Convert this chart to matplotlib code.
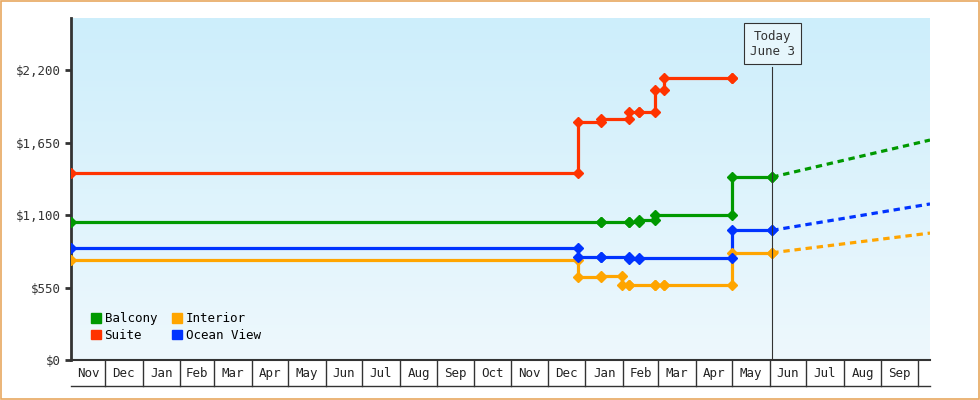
import numpy as np
import matplotlib.pyplot as plt
import matplotlib.dates as mdates
from datetime import date

plt.rcParams['font.family'] = ['DejaVu Sans Mono']

# step data: dates where price changes, and price from that date
suite_dates = ["2022-11-03", "2023-12-26", "2024-01-14", "2024-02-06", "2024-02-14", "2024-02-27", "2024-03-06", "2024-05-01"]
suite_vals = [1420, 1805, 1826, 1884, 1884, 2049, 2137, 2137]
balcony_dates = ["2022-11-03", "2024-01-14", "2024-02-06", "2024-02-14", "2024-02-27", "2024-05-01", "2024-06-03"]
balcony_vals = [1047, 1050, 1050, 1062, 1098, 1388, 1388]
interior_dates = ["2022-11-03", "2023-12-26", "2024-01-14", "2024-01-31", "2024-02-06", "2024-02-27", "2024-03-06", "2024-05-01", "2024-06-03"]
interior_vals = [759, 627, 637, 569, 566, 566, 566, 814, 814]
ocean_dates = ["2022-11-03", "2023-12-26", "2024-01-14", "2024-02-06", "2024-02-14", "2024-05-01", "2024-06-03"]
ocean_vals = [850, 784, 784, 764, 776, 984, 984]
# projected prices (today -> end of range)
proj_dates = ["2024-06-03", "2024-10-11"]
balcony_proj = [1388, 1669]
interior_proj = [814, 963]
ocean_proj = [984, 1184]

months = ["Nov", "Dec", "Jan", "Feb", "Mar", "Apr", "May", "Jun", "Jul", "Aug", "Sep", "Oct",
          "Nov", "Dec", "Jan", "Feb", "Mar", "Apr", "May", "Jun", "Jul", "Aug", "Sep"]
yticks = [0, 550, 1100, 1650, 2200]

fig = plt.figure(figsize=(9.8, 4), dpi=100)
fig.patches.append(plt.Rectangle((0.001, 0.002), 0.998, 0.996, transform=fig.transFigure,
                                 fill=False, ec="#e8a860", lw=1.2))
ax = fig.add_axes([71/980, 40/400, 859/980, 342/400])
x0, x1 = date(2022, 11, 3), date(2024, 10, 11)
ax.set_xlim(x0, x1)
ax.set_ylim(0, 2595)

# gradient background
grad = np.linspace(0, 1, 256).reshape(-1, 1)
ax.imshow(grad, extent=[mdates.date2num(x0), mdates.date2num(x1), 0, 2595], aspect="auto",
          cmap=plt.matplotlib.colors.LinearSegmentedColormap.from_list("bg", ["#eef8fd", "#cdeefb"]),
          origin="lower", zorder=0)

def D(lst):
    return [np.datetime64(d) for d in lst]

series = [(balcony_dates, balcony_vals, "#009900", "Balcony"),
          (suite_dates, suite_vals, "#ff3300", "Suite"),
          (interior_dates, interior_vals, "#ffa500", "Interior"),
          (ocean_dates, ocean_vals, "#0033ff", "Ocean View")]
for ds, vs, c, lab in series:
    ax.step(D(ds), vs, where="post", color=c, lw=2.3, zorder=3)
    ax.plot(D(ds[1:]), vs[:-1], "D", color=c, ms=5, zorder=4)
    ax.plot(D(ds), vs, "D", color=c, ms=5, zorder=4, label=lab)
for vs, c in [(balcony_proj, "#009900"), (interior_proj, "#ffa500"), (ocean_proj, "#0033ff")]:
    ax.plot(D(proj_dates), vs, color=c, lw=2.3, ls=(0, (2, 1.5)), zorder=3)

# today marker
today = np.datetime64("2024-06-03")
ax.plot([today, today], [0, 2225], color="#333333", lw=0.8, zorder=5)
ax.text(today, 2400, "Today\nJune 3", ha="center", va="center", fontsize=9, color="#333333",
        bbox=dict(boxstyle="square,pad=0.5", fc="#e6f6fc", ec="#333333", lw=0.8), zorder=6)

ax.set_yticks(yticks)
ax.set_yticklabels(["$0" if v == 0 else "${:,}".format(v) for v in yticks], fontsize=9, color="#333333")
ax.tick_params(axis="y", length=4, width=2, color="#333333")
ax.set_xticks([])
for s in ["top", "right"]:
    ax.spines[s].set_visible(False)
ax.spines["left"].set_linewidth(2)
ax.spines["left"].set_color("#333333")
ax.spines["bottom"].set_linewidth(1.5)
ax.spines["bottom"].set_color("#333333")

# month boxes below axis
tr = ax.get_xaxis_transform()
bounds = [mdates.date2num(x0)]
y, m = 2022, 12
for i in range(len(months)):
    bounds.append(mdates.date2num(date(y, m, 1)))
    m += 1
    if m > 12:
        m, y = 1, y + 1
xe = mdates.date2num(x1)
for i, lab in enumerate(months):
    a, b = bounds[i], min(bounds[i + 1], xe)
    ax.text((a + b) / 2, -0.04, lab, transform=tr, ha="center", va="center", fontsize=9, color="#222222")
for bnd in bounds[1:]:
    if bnd < xe:
        ax.plot([bnd, bnd], [0, -0.075], transform=tr, color="#333333", lw=1, clip_on=False)
ax.plot([bounds[0], xe], [-0.075, -0.075], transform=tr, color="#333333", lw=1, clip_on=False)

handles, labels = ax.get_legend_handles_labels()
leg = ax.legend([plt.Rectangle((0, 0), 1, 1, color=s[2]) for s in series], [s[3] for s in series],
                loc="lower left", ncol=2, frameon=False, fontsize=9, handlelength=0.8, handleheight=0.8,
                handletextpad=0.3, columnspacing=1.2, labelspacing=0.3, bbox_to_anchor=(0.01, 0.02))

fig.savefig("out.png", dpi=100)
